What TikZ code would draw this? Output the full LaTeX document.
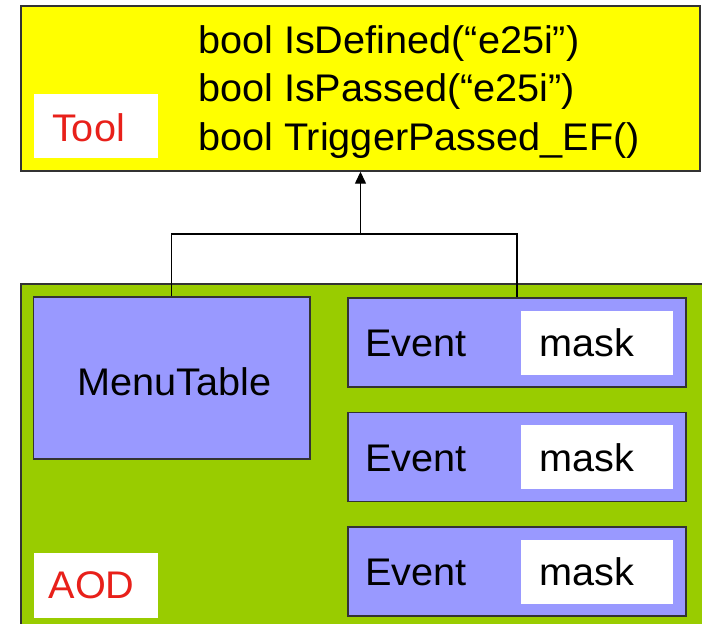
\documentclass[tikz,border=0pt]{standalone}
\usepackage{fontspec}
\setmainfont[FakeStretch=1.03]{Liberation Sans}
\usetikzlibrary{arrows.meta}
\definecolor{toolyellow}{HTML}{FFFF00}
\definecolor{aodgreen}{HTML}{99CC00}
\definecolor{boxblue}{HTML}{9999FF}
\definecolor{labelred}{HTML}{E8201A}
\definecolor{edge}{HTML}{333333}
\tikzset{
  box/.style={draw=edge, line width=1.4pt, inner sep=0pt, anchor=center},
  whitebox/.style={fill=white, inner sep=0pt, anchor=center},
  txt/.style={inner sep=0pt, font=\fontsize{38.5}{46}\selectfont},
  redtxt/.style={txt, text=labelred},
  conn/.style={draw=black, line width=1.3pt},
}
\begin{document}
\begin{tikzpicture}[x=1pt,y=-1pt]
\useasboundingbox (0,0) rectangle (702,624);
\clip (0,0) rectangle (702,624);
% Tool box
\node[box, fill=toolyellow, minimum width=679, minimum height=165] (tool) at (360.5,88.5) {};
\node[whitebox, minimum width=124.4, minimum height=64] (toolwb) at (95.8,126) {};
\node[redtxt] (tooltxt) at (88.5,127.5) {Tool};
\node[txt, anchor=base west] (f1) at (198,53.3) {bool IsDefined(“e25i”)};
\node[txt, anchor=base west] (f2) at (198,101.7) {bool IsPassed(“e25i”)};
\node[txt, anchor=base west] (f3) at (198,150) {bool TriggerPassed\_EF()};
% AOD box
\node[box, fill=aodgreen, minimum width=700, minimum height=360] (aod) at (371,464) {};
\node[box, fill=boxblue, minimum width=276.4, minimum height=162] (menu) at (171.8,378) {};
\node[txt] (menutxt) at (174.6,382) {MenuTable};
\foreach \i/\y in {1/342.5, 2/457, 3/571.5}{
  \node[box, fill=boxblue, minimum width=338, minimum height=89] (ev\i) at (517,\y) {};
  \node[whitebox, minimum width=151.5, minimum height=64] (mk\i) at (597,\y) {};
  \node[txt, anchor=west] (evt\i) at (365,\y+1) {Event};
  \node[txt, anchor=west] (mkt\i) at (539,\y+0.5) {mask};
}
\node[whitebox, minimum width=124.4, minimum height=65] (aodwb) at (95.8,585.5) {};
\node[redtxt] (aodtxt) at (91.6,585) {AOD};
% connectors
\coordinate (j) at (360.5,234);
\draw[conn] (menu.north) |- (j) -| (ev1.north);
\draw[conn, -{Triangle[length=12pt,width=11pt]}] (j) -- (tool.south);
\end{tikzpicture}
\end{document}
